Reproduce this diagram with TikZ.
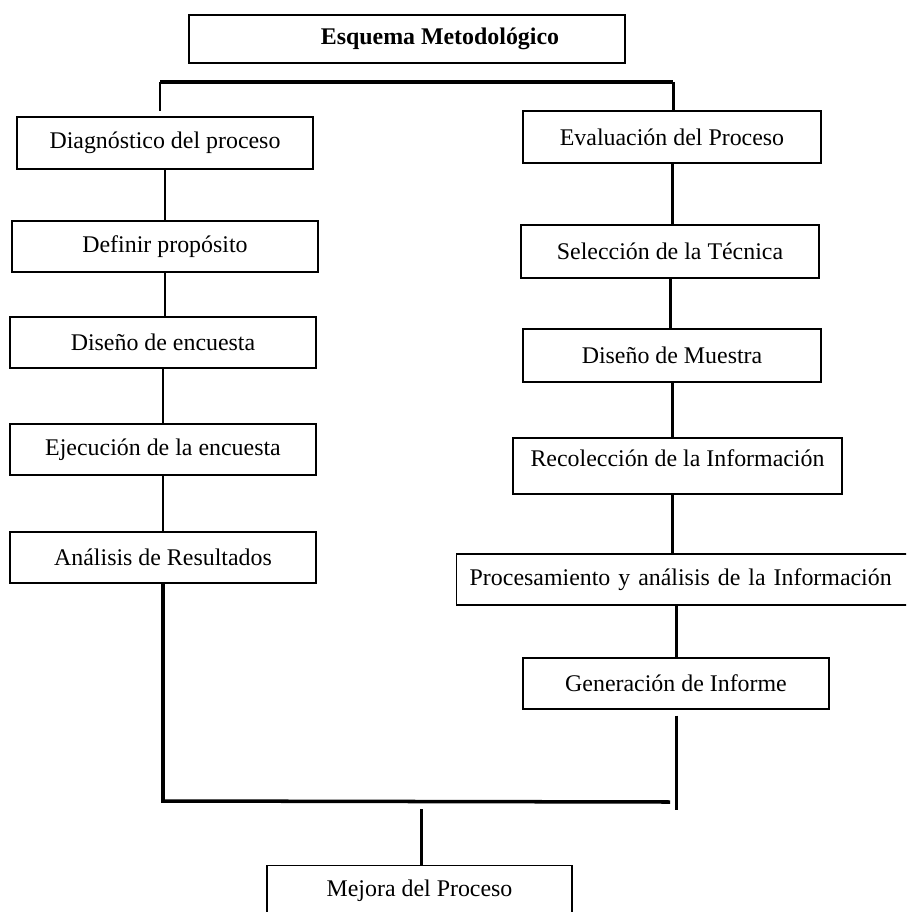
\documentclass[tikz,border=0pt]{standalone}
\usepackage{fontspec}
\setmainfont{Liberation Serif}
\usepackage{tikz}

\tikzset{
  caja/.style={draw, line width=0.8pt, inner sep=0pt, minimum height=1.02cm, font=\fontsize{13.6}{16}\selectfont},
  enlace/.style={line width=1.7pt},
  barra/.style={line width=2.2pt}
}

\begin{document}
\begin{tikzpicture}[x=0.02cm,y=-0.02cm]
\useasboundingbox (0,0) rectangle (906,912);
\clip (0,0) rectangle (906,912);
\node (titulo) at (407,39) [caja, minimum width=8.72cm, minimum height=0.96cm] {\hspace*{1.32cm}\textbf{Esquema Metodológico}};
\node (diag) at (165,143) [caja, minimum width=5.92cm, minimum height=1.04cm] {Diagnóstico del proceso};
\node (defin) at (165,246.5) [caja, minimum width=6.12cm] {Definir propósito};
\node (disenc) at (163,342.5) [caja, minimum width=6.12cm] {Diseño de encuesta};
\node (ejec) at (163,449.5) [caja, minimum width=6.12cm] {Ejecución de la encuesta};
\node (anal) at (163,557.5) [caja, minimum width=6.12cm] {Análisis de Resultados};
\node (eval) at (672,137) [caja, minimum width=5.96cm, minimum height=1.04cm] {Evaluación del Proceso};
\node (selec) at (670,251.5) [caja, minimum width=5.96cm, minimum height=1.06cm] {Selección de la Técnica};
\node (muestra) at (672,355.5) [caja, minimum width=5.96cm, minimum height=1.06cm] {Diseño de Muestra};
\node (recol) at (677.5,466) [caja, minimum width=6.58cm, minimum height=1.12cm, text depth=0.32cm] {Recolección de la Información};
\node (proc) at (456,579.5) [caja, anchor=west, text width=9.8cm, inner xsep=0.26cm, align=left] {Procesamiento y análisis de la Información};
\node (gen) at (676,683.5) [caja, minimum width=6.12cm] {Generación de Informe};
\node (mejora) at (419.5,865) [caja, anchor=north, minimum width=6.1cm, minimum height=1.2cm, text depth=0.3cm] {Mejora del Proceso};
\coordinate (izq) at (160,82);
\coordinate (der) at (673,82);
\draw[barra] (izq) -- (der);
\draw[enlace, shorten >=0.1cm] (izq) -- (izq |- diag.north);
\draw[enlace] (der) -- (der |- eval.north);
\draw[enlace] (diag.south) -- (diag.south |- defin.north);
\draw[enlace] (defin.south) -- (defin.south |- disenc.north);
\draw[enlace] (disenc.south) -- (disenc.south |- ejec.north);
\draw[enlace] (ejec.south) -- (ejec.south |- anal.north);
\draw[enlace] (eval.south) -- (eval.south |- selec.north);
\draw[enlace] (selec.south) -- (selec.south |- muestra.north);
\draw[enlace] (muestra.south) -- (muestra.south |- recol.north);
\draw[enlace] (muestra.south |- recol.south) -- (muestra.south |- proc.north);
\draw[enlace] (proc.south -| gen.north) -- (gen.north);
\coordinate (baseizq) at (166,801);
\coordinate (baseder) at (670,802);
\coordinate (cierre) at (675,810);
\coordinate (union) at (421,809);
\draw[enlace, line width=2pt] (anal.south) -- (anal.south |- baseizq) -- (baseder);
\draw[enlace, shorten <=0.12cm] (gen.south) -- (gen.south |- cierre);
\draw[enlace] (union) -- (union |- mejora.north);
\end{tikzpicture}
\end{document}
